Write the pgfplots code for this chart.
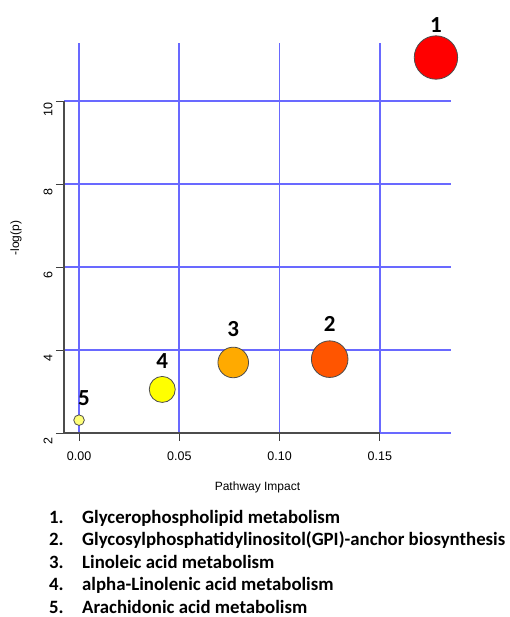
\documentclass[border=0pt]{standalone}
\usepackage{fontspec}
\setmainfont{Liberation Sans}
\newfontfamily\calibri{Carlito}
\usepackage{pgfplots}
\pgfplotsset{compat=1.18}
\definecolor{gridblue}{RGB}{105,105,255}
\definecolor{c1}{RGB}{255,0,0}
\definecolor{c2}{RGB}{255,85,0}
\definecolor{c3}{RGB}{255,170,0}
\definecolor{c4}{RGB}{255,255,0}
\definecolor{c5}{RGB}{255,255,120}
\newcommand\numfont{\calibri\bfseries\fontsize{23}{25}\selectfont}
\newcommand\listfont{\calibri\bfseries\fontsize{18.8}{21}\selectfont}
\begin{document}
\begin{tikzpicture}[x=1pt,y=1pt]
\useasboundingbox (0,0) rectangle (509,617);
\begin{axis}[
    at={(64pt,184pt)}, anchor=south west,
    scale only axis, width=387pt, height=390pt,
    xmin=-0.0075, xmax=0.1855, ymin=2, ymax=11.4,
    axis x line*=bottom, axis y line*=left,
    axis line style={draw=none},
    xtick={0,0.05,0.1,0.15}, xticklabels={0.00,0.05,0.10,0.15},
    ytick={2,4,6,8,10},
    /pgf/number format/assume math mode=true,
    tick align=outside, major tick length=8pt,
    every tick/.style={black!75, line width=0.8pt},
    xmajorgrids, ymajorgrids,
    every major grid/.style={draw=gridblue, line width=1.8pt},
    ticklabel style={font=\fontsize{12.5}{14}\selectfont},
    xticklabel style={yshift=-7pt},
    yticklabel style={rotate=90, anchor=south, xshift=-8pt},
    xlabel={Pathway Impact}, ylabel={-log(p)},
    label style={font=\fontsize{12}{14}\selectfont},
    xlabel style={at={(axis description cs:0.5,-0.1385)}, anchor=center},
    ylabel style={at={(axis description cs:-0.124,0.5)}, anchor=center},
    clip=false,
    every node near coord/.append style={font=\numfont, anchor=center},
]
\coordinate (ytop) at (axis cs:-0.0075,10);
\coordinate (corner) at (axis cs:-0.0075,2);
\coordinate (xend) at (axis cs:0.15,2);
\addplot[only marks, mark=*, mark size=21.7pt, mark options={fill=c1, draw=black!70, line width=0.8pt},
    nodes near coords={1}, every node near coord/.append style={yshift=32pt}]
    coordinates {(0.178,11.05)};
\addplot[only marks, mark=*, mark size=18.3pt, mark options={fill=c2, draw=black!70, line width=0.8pt},
    nodes near coords={2}, every node near coord/.append style={yshift=35pt}]
    coordinates {(0.125,3.78)};
\addplot[only marks, mark=*, mark size=15.3pt, mark options={fill=c3, draw=black!70, line width=0.8pt},
    nodes near coords={3}, every node near coord/.append style={yshift=33pt}]
    coordinates {(0.0769,3.70)};
\addplot[only marks, mark=*, mark size=13pt, mark options={fill=c4, draw=black!70, line width=0.8pt},
    nodes near coords={4}, every node near coord/.append style={yshift=28pt}]
    coordinates {(0.0415,3.05)};
\addplot[only marks, mark=*, mark size=5.3pt, mark options={fill=c5, draw=black!70, line width=0.8pt},
    nodes near coords={5}, every node near coord/.append style={yshift=22pt, xshift=5pt}]
    coordinates {(0,2.31)};
\end{axis}
% R-style axis lines, drawn over the grid
\draw[black!70, line width=1.2pt] (ytop) -- (corner) -- (xend);
% pathway list under the chart
\foreach \n/\t/\b in {1/Glycerophospholipid metabolism/523.5,
    2/Glycosylphosphatidylinositol(GPI)-anchor biosynthesis/546,
    3/Linoleic acid metabolism/568.5,
    4/alpha-Linolenic acid metabolism/591,
    5/Arachidonic acid metabolism/613} {
  \node[anchor=base west, inner sep=0, font=\listfont] at (49,{617-\b}) {\n.};
  \node[anchor=base west, inner sep=0, font=\listfont] at (82,{617-\b}) {\t};
}
\end{tikzpicture}
\end{document}
